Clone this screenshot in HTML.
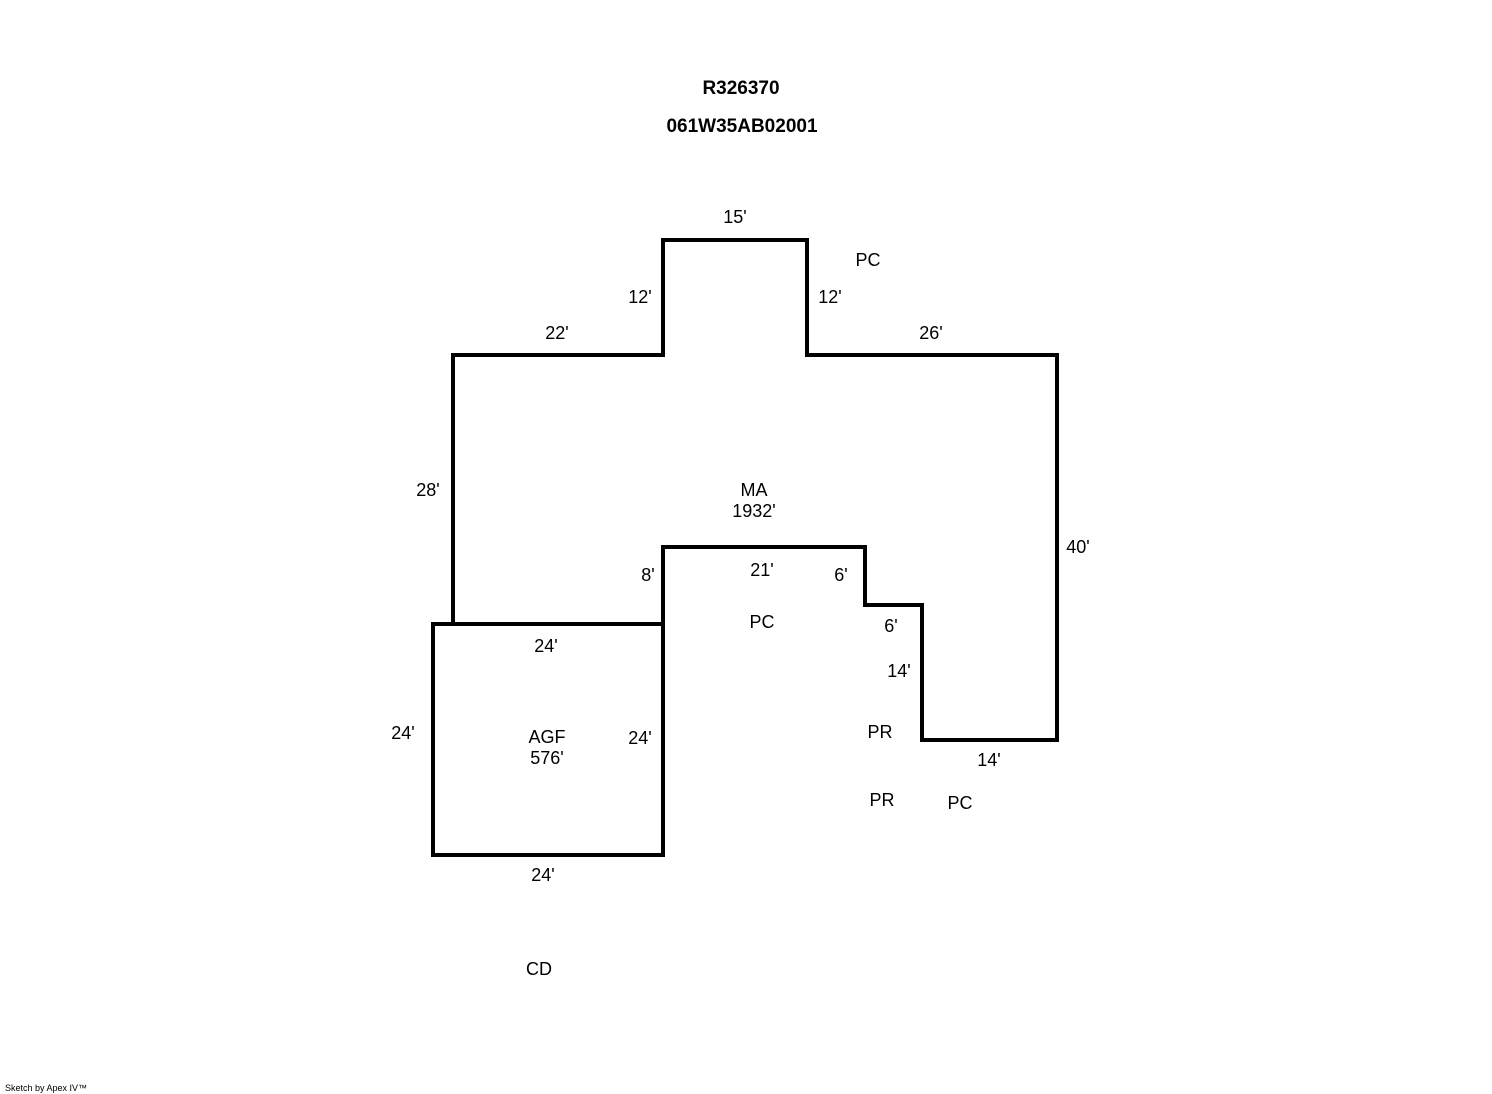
<!DOCTYPE html>
<html><head><meta charset="utf-8"><style>
html,body{margin:0;padding:0;background:#fff;}
svg{display:block;}
text{font-family:"Liberation Sans",Arial,sans-serif;font-size:18px;fill:#000;}
.b{font-weight:bold;font-size:19px;}
</style></head><body>
<svg width="1492" height="1094" viewBox="0 0 1492 1094" xmlns="http://www.w3.org/2000/svg">
<g fill="none" stroke="#000" stroke-width="4" stroke-linejoin="miter" stroke-linecap="square">
<polyline points="453,622 453,355 663,355 663,240 807,240 807,355 1057,355 1057,740 922,740 922,605 865,605 865,547 663,547 663,624"/>
<rect x="433" y="624" width="230" height="231"/>
</g>
<g text-anchor="middle">
<text class="b" x="741" y="94">R326370</text>
<text class="b" x="742" y="132">061W35AB02001</text>
<text x="735" y="223">15'</text>
<text x="868" y="266">PC</text>
<text x="640" y="303">12'</text>
<text x="830" y="303">12'</text>
<text x="557" y="339">22'</text>
<text x="931" y="339">26'</text>
<text x="428" y="496">28'</text>
<text x="754" y="496">MA</text>
<text x="754" y="517">1932'</text>
<text x="1078" y="553">40'</text>
<text x="648" y="581">8'</text>
<text x="762" y="576">21'</text>
<text x="841" y="581">6'</text>
<text x="762" y="628">PC</text>
<text x="891" y="632">6'</text>
<text x="546" y="652">24'</text>
<text x="899" y="677">14'</text>
<text x="403" y="739">24'</text>
<text x="547" y="743">AGF</text>
<text x="547" y="764">576'</text>
<text x="640" y="744">24'</text>
<text x="880" y="738">PR</text>
<text x="989" y="766">14'</text>
<text x="882" y="806">PR</text>
<text x="960" y="809">PC</text>
<text x="543" y="881">24'</text>
<text x="539" y="975">CD</text>
</g>
<text x="5" y="1091" style="font-size:9px">Sketch by Apex IV™</text>
</svg>
</body></html>
